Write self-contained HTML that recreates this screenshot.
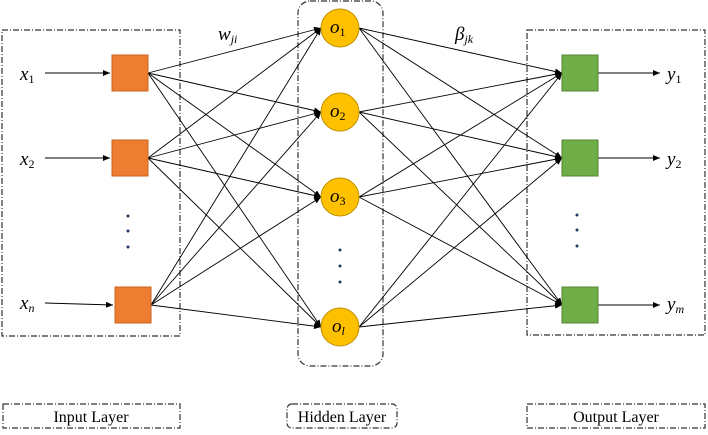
<!DOCTYPE html>
<html><head><style>body{margin:0;background:#fff}</style></head><body>
<svg width="708" height="430" xmlns="http://www.w3.org/2000/svg" font-family="Liberation Serif, serif">
<defs><marker id="a" markerWidth="8" markerHeight="8" refX="7" refY="3" orient="auto" markerUnits="userSpaceOnUse"><path d="M0,0 L7,3 L0,6z" fill="#000"/></marker></defs>
<g fill="none" stroke="#333" stroke-width="1.2" stroke-dasharray="6,2,1,2">
<rect x="2" y="30" width="178" height="306"/>
<rect x="298" y="1" width="85" height="365" rx="12"/>
<rect x="527" y="30" width="178" height="305"/>
<rect x="3" y="404" width="177" height="24"/>
<rect x="287" y="404" width="110" height="24" rx="5"/>
<rect x="527" y="404" width="178" height="24"/>
</g>
<g stroke="#000" stroke-width="0.9" marker-end="url(#a)">
<path d="M148,73L321,28"/><path d="M148,73L321,112"/><path d="M148,73L321,197"/><path d="M148,73L321,327"/>
<path d="M148,158L321,28"/><path d="M148,158L321,112"/><path d="M148,158L321,197"/><path d="M148,158L321,327"/>
<path d="M151,305L321,28"/><path d="M151,305L321,112"/><path d="M151,305L321,197"/><path d="M151,305L321,327"/>
<path d="M359,28L562,73"/><path d="M359,28L562,158"/><path d="M359,28L562,305"/>
<path d="M359,112L562,73"/><path d="M359,112L562,158"/><path d="M359,112L562,305"/>
<path d="M359,197L562,73"/><path d="M359,197L562,158"/><path d="M359,197L562,305"/>
<path d="M359,327L562,73"/><path d="M359,327L562,158"/><path d="M359,327L562,305"/>
<path d="M45,73L110,73"/><path d="M45,158L110,158"/><path d="M45,303L113,305"/>
<path d="M598,73L660,73"/><path d="M598,158L660,158"/><path d="M598,305L660,305"/>
</g>
<g fill="#ed7d31" stroke="#c9651f"><rect x="112" y="55" width="36" height="36"/><rect x="112" y="140" width="36" height="36"/><rect x="115" y="287" width="36" height="36"/></g>
<g fill="#70ad47" stroke="#548235"><rect x="562" y="55" width="36" height="36"/><rect x="562" y="140" width="36" height="36"/><rect x="562" y="287" width="36" height="36"/></g>
<g fill="#ffc000" stroke="#bf9000"><circle cx="340" cy="28" r="19"/><circle cx="340" cy="112" r="19"/><circle cx="340" cy="197" r="19"/><circle cx="340" cy="327" r="19"/></g>
<g fill="#1f3864"><circle cx="128" cy="216" r="1.5"/><circle cx="128" cy="231" r="1.5"/><circle cx="128" cy="247" r="1.5"/>
<circle cx="340" cy="250" r="1.5"/><circle cx="340" cy="266" r="1.5"/><circle cx="340" cy="282" r="1.5"/>
<circle cx="577" cy="215" r="1.5"/><circle cx="577" cy="230" r="1.5"/><circle cx="577" cy="246" r="1.5"/></g>
<g font-style="italic" font-size="19" fill="#000">
<text x="20" y="80">x<tspan font-size="12" dy="3" font-style="normal">1</tspan></text>
<text x="20" y="165">x<tspan font-size="12" dy="3" font-style="normal">2</tspan></text>
<text x="20" y="309">x<tspan font-size="12" dy="3">n</tspan></text>
<text x="218" y="40">w<tspan font-size="12" dy="3">ji</tspan></text>
<text x="455" y="40">β<tspan font-size="12" dy="3">jk</tspan></text>
<text x="330" y="33">o<tspan font-size="12" dy="3" font-style="normal">1</tspan></text>
<text x="330" y="117">o<tspan font-size="12" dy="3" font-style="normal">2</tspan></text>
<text x="330" y="202">o<tspan font-size="12" dy="3" font-style="normal">3</tspan></text>
<text x="332" y="332">o<tspan font-size="12" dy="3">l</tspan></text>
<text x="667" y="80">y<tspan font-size="12" dy="3" font-style="normal">1</tspan></text>
<text x="667" y="165">y<tspan font-size="12" dy="3" font-style="normal">2</tspan></text>
<text x="667" y="310">y<tspan font-size="12" dy="3">m</tspan></text>
</g>
<g font-size="16" text-anchor="middle" fill="#000">
<text x="91" y="422">Input Layer</text><text x="342" y="422">Hidden Layer</text><text x="616" y="422">Output Layer</text>
</g>
</svg>
</body></html>
